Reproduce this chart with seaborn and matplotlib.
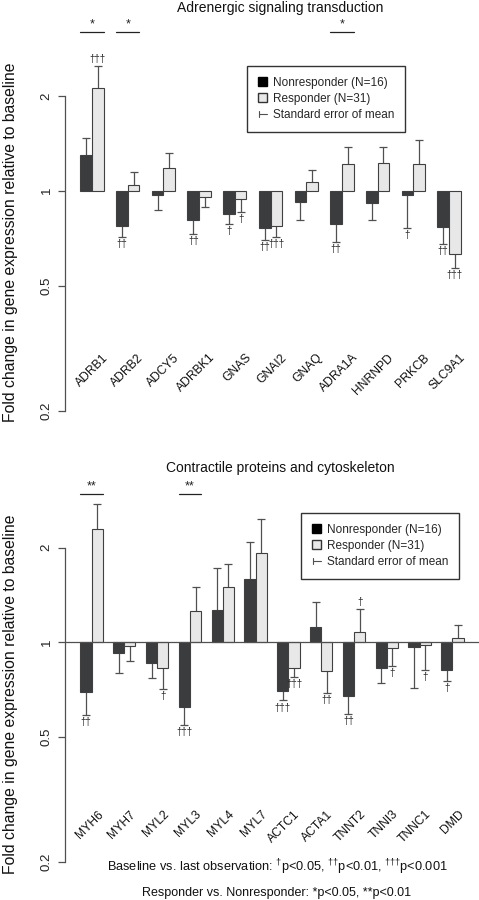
import numpy as np
import pandas as pd
import matplotlib
matplotlib.use("Agg")
import matplotlib.pyplot as plt
from matplotlib.patches import Patch
from matplotlib.lines import Line2D
from matplotlib.legend_handler import HandlerBase
import seaborn as sns

GROUPS = ["Nonresponder (N=16)", "Responder (N=31)"]

# Adrenergic signaling panel: fold change and end of SEM whisker
ADR_GENES = ["ADRB1", "ADRB2", "ADCY5", "ADRBK1", "GNAS", "GNAI2",
             "GNAQ", "ADRA1A", "HNRNPD", "PRKCB", "SLC9A1"]
ADR_NR = [1.30, 0.775, 0.971, 0.805, 0.846, 0.76, 0.921, 0.782, 0.916, 0.971, 0.765]
ADR_NR_SEM = [1.47, 0.713, 0.866, 0.727, 0.784, 0.696, 0.805, 0.686, 0.807, 0.76, 0.679]
ADR_R = [2.12, 1.045, 1.18, 0.953, 0.939, 0.771, 1.063, 1.215, 1.224, 1.215, 0.63]
ADR_R_SEM = [2.49, 1.146, 1.32, 0.89, 0.856, 0.712, 1.162, 1.372, 1.372, 1.444, 0.57]
ADR_NR_DAG = ["", "††", "", "††", "†", "††", "", "††", "", "†", "††"]
ADR_R_DAG = ["†††", "", "", "", "†", "†††", "", "", "", "", "†††"]
ADR_STARS = ["*", "*", "", "", "", "", "", "*", "", "", ""]

# Contractile proteins panel
CON_GENES = ["MYH6", "MYH7", "MYL2", "MYL3", "MYL4", "MYL7",
             "ACTC1", "ACTA1", "TNNT2", "TNNI3", "TNNC1", "DMD"]
CON_NR = [0.696, 0.923, 0.858, 0.624, 1.27, 1.595, 0.701, 1.121, 0.676, 0.829, 0.969, 0.817]
CON_NR_SEM = [0.588, 0.80, 0.769, 0.546, 1.725, 2.08, 0.653, 1.342, 0.593, 0.743, 0.718, 0.751]
CON_R = [2.29, 0.976, 0.831, 1.254, 1.505, 1.92, 0.831, 0.811, 1.075, 0.957, 0.978, 1.03]
CON_R_SEM = [2.76, 0.873, 0.71, 1.505, 1.775, 2.47, 0.776, 0.688, 1.272, 0.843, 0.817, 1.138]
CON_NR_DAG = ["††", "", "", "†††", "", "", "†††", "", "††", "", "", "†"]
CON_R_DAG = ["", "", "†", "", "", "", "†††", "††", "†", "†", "†", ""]
CON_STARS = ["**", "", "", "**", "", "", "", "", "", "", "", ""]

YTICKS = [0.2, 0.5, 1, 2]

DARK = "#3b3c3e"
LIGHT = "#e8e8e8"
EDGE = "#404040"
LINE = "#505050"

sns.set_theme(style="white")
plt.rcParams["font.family"] = ["Liberation Sans", "DejaVu Sans"]
plt.rcParams["mathtext.fontset"] = "custom"
plt.rcParams["mathtext.rm"] = "Liberation Sans"


class SemHandler(HandlerBase):
    def create_artists(self, legend, orig_handle, xdescent, ydescent,
                       width, height, fontsize, trans):
        yc = height / 2 - ydescent
        x0 = -xdescent + width * 0.1
        x1 = -xdescent + width
        return [Line2D([x0, x1], [yc, yc], color=LINE, lw=0.8, transform=trans),
                Line2D([x0, x0], [yc - height * 0.3, yc + height * 0.3],
                       color=LINE, lw=0.8, transform=trans)]


def panel(ax, genes, nr, nr_sem, r, r_sem, nr_dag, r_dag, stars,
          title, group_width, xlim, star_y, leg_xy, baseline, label_dx, label_y):
    n = len(genes)
    df = pd.DataFrame({
        "gene": genes * 2,
        "group": [GROUPS[0]] * n + [GROUPS[1]] * n,
        "fold": nr + r,
        "sem": nr_sem + r_sem,
        "dag": nr_dag + r_dag,
    })
    df["log2"] = np.log2(df["fold"])
    df["log2_sem"] = np.log2(df["sem"])

    sns.barplot(data=df, x="gene", y="log2", hue="group", hue_order=GROUPS,
                palette=[DARK, LIGHT], width=group_width, edgecolor=EDGE,
                linewidth=0.8, errorbar=None, legend=False, ax=ax, zorder=3)

    bars = ax.patches[:2 * n]
    for p, (_, row) in zip(bars, df.iterrows()):
        x = p.get_x() + p.get_width() / 2
        y0, ye = row["log2"], row["log2_sem"]
        ax.plot([x, x], [y0, ye], color=LINE, lw=0.9, zorder=2)
        ax.plot([x], [ye], marker="_", ms=5.5, mew=0.9, color=LINE, zorder=2)
        if row["dag"]:
            up = ye > y0
            ax.annotate(row["dag"], (x, ye), xytext=(0, 1.5 if up else -1.5),
                        textcoords="offset points", ha="center",
                        va="bottom" if up else "top", fontsize=7, color="#222222")

    for i, s in enumerate(stars):
        if not s:
            continue
        left = bars[i].get_x()
        right = bars[n + i].get_x() + bars[n + i].get_width()
        ax.plot([left, right], [star_y, star_y], color="#222222", lw=0.9,
                clip_on=False)
        ax.annotate(s, ((left + right) / 2, star_y), xytext=(0, 1),
                    textcoords="offset points", ha="center", va="bottom",
                    fontsize=9, color="#222222", annotation_clip=False)

    if baseline:
        ax.axhline(0, color=LINE, lw=0.9, zorder=4)

    # gene names inside the plot region, rotated like the original
    for i, g in enumerate(genes):
        ax.text(i + label_dx, label_y, g, rotation=45, rotation_mode="anchor",
                ha="right", va="center", fontsize=8.7, color="#111111")

    ax.set_xlim(*xlim)
    ax.set_xticks([])
    ax.set_xlabel("")
    ax.set_yticks(np.log2(YTICKS))
    ax.set_yticklabels([f"{v:g}" for v in YTICKS], rotation=90, va="center")
    ax.tick_params(axis="y", left=True, length=5, width=0.9, color=LINE,
                   pad=4, labelsize=9.5, labelcolor="#222222")
    sns.despine(ax=ax, bottom=True)
    ax.spines["left"].set_bounds(np.log2(0.2), np.log2(2))
    ax.spines["left"].set_color(LINE)
    ax.spines["left"].set_linewidth(0.9)

    ax.set_ylabel("Fold change in gene expression relative to baseline",
                  fontsize=11.3, color="#111111")

    ax.set_title(title, fontsize=10, color="#111111", x=0.52)

    handles = [Patch(facecolor="black", edgecolor="black"),
               Patch(facecolor=LIGHT, edgecolor="#333333"),
               Line2D([], [])]
    labels = GROUPS + ["Standard error of mean"]
    leg = ax.legend(handles, labels, loc="upper left", bbox_to_anchor=leg_xy,
                    borderaxespad=0, fancybox=False, frameon=True, fontsize=8.5,
                    handlelength=0.8, handleheight=0.8, handletextpad=0.5,
                    labelspacing=0.35, borderpad=0.9,
                    handler_map={handles[2]: SemHandler()})
    leg.get_frame().set_edgecolor("black")
    leg.get_frame().set_linewidth(1.0)


fig = plt.figure(figsize=(4.79, 9.0), dpi=100)
ax1 = fig.add_axes([65 / 479, 1 - 411 / 900, 414 / 479, 391 / 900])
ax2 = fig.add_axes([65 / 479, 1 - 862 / 900, 414 / 479, 382 / 900])

panel(ax1, ADR_GENES, ADR_NR, ADR_NR_SEM, ADR_R, ADR_R_SEM, ADR_NR_DAG,
      ADR_R_DAG, ADR_STARS, "Adrenergic signaling transduction", 0.655,
      (-0.756, 10.84), 1.674, (0.44, 0.882), False, 0.40, -1.74)
ax1.set_ylim(np.log2(0.2), (191 - 20) / 95)
ax1.title.set_y(1.013)
ax1.yaxis.set_label_coords(-0.1135, 0.431)

panel(ax2, CON_GENES, CON_NR, CON_NR_SEM, CON_R, CON_R_SEM, CON_NR_DAG,
      CON_R_DAG, CON_STARS, "Contractile proteins and cytoskeleton", 0.68,
      (-0.808, 11.81), 1.568, (0.570, 0.9136), True, 0.30, -1.80)
ax2.set_ylim(np.log2(0.2), (643 - 480) / 95)
ax2.title.set_y(1.042)
ax2.yaxis.set_label_coords(-0.1135, 0.44)

fig.text(0.578, 1 - 867 / 900,
         r"Baseline vs. last observation: $^{†}$p<0.05, $^{††}$p<0.01, $^{†††}$p<0.001",
         ha="center", va="center", fontsize=9.2, color="#111111")
fig.text(0.578, 1 - 893 / 900,
         "Responder vs. Nonresponder: *p<0.05, **p<0.01",
         ha="center", va="center", fontsize=9.0, color="#111111")

fig.savefig("out.png", dpi=100, facecolor="white")
